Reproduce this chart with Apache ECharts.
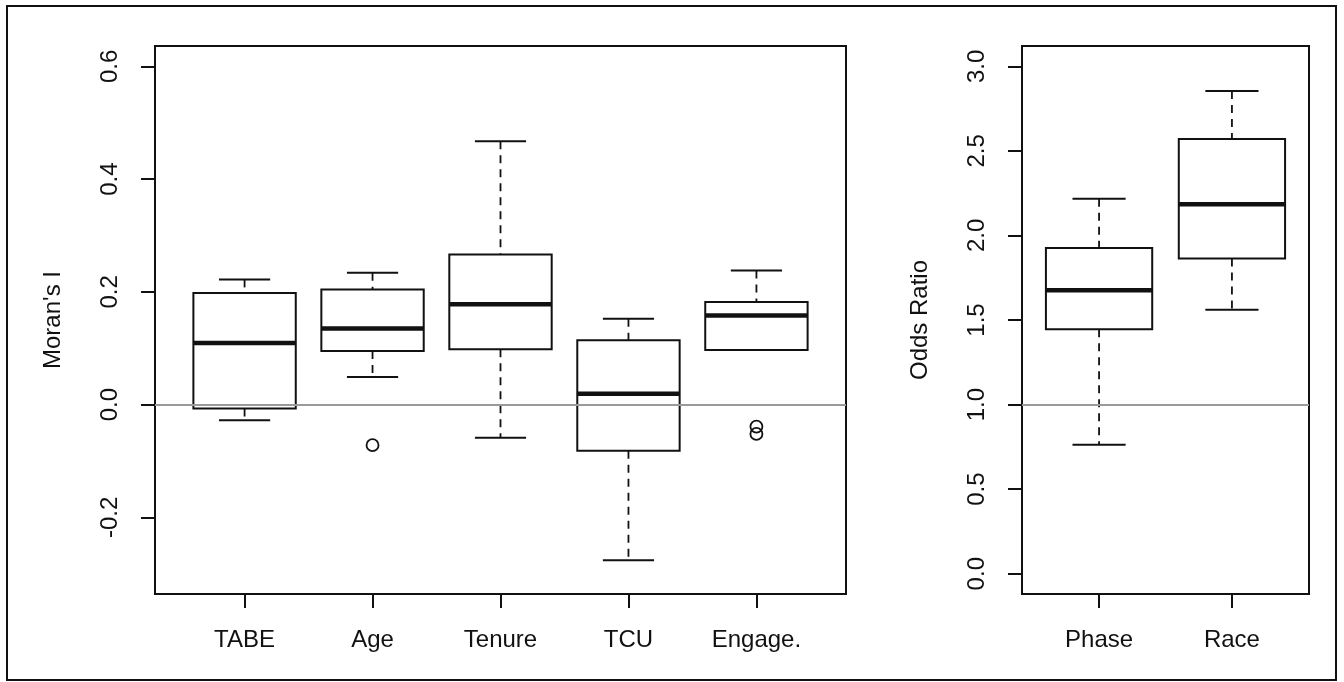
<!DOCTYPE html>
<html>
<head>
<meta charset="utf-8">
<script src="https://cdn.jsdelivr.net/npm/echarts@6/dist/echarts.min.js"></script>
<style>
  html, body { margin: 0; padding: 0; background: #fff; }
  #chart { width: 1344px; height: 682px; }
</style>
</head>
<body>
<div id="chart"></div>
<script>
// left panel: Moran's I
const leftCats = ['TABE', 'Age', 'Tenure', 'TCU', 'Engage.']
const leftLow = [-0.028, 0.049, -0.059, -0.276, 0.097]
const leftQ1 = [-0.007, 0.095, 0.098, -0.082, 0.097]
const leftMed = [0.109, 0.135, 0.178, 0.019, 0.158]
const leftQ3 = [0.198, 0.204, 0.266, 0.114, 0.182]
const leftHigh = [0.222, 0.234, 0.467, 0.152, 0.238]
const leftOutCat = ['Age', 'Engage.', 'Engage.']
const leftOutVal = [-0.072, -0.039, -0.052]
const leftTicks = [-0.2, 0.0, 0.2, 0.4, 0.6]

// right panel: odds ratios
const rightCats = ['Phase', 'Race']
const rightLow = [0.763, 1.560]
const rightQ1 = [1.446, 1.864]
const rightMed = [1.676, 2.185]
const rightQ3 = [1.925, 2.570]
const rightHigh = [2.217, 2.854]
const rightTicks = [0.0, 0.5, 1.0, 1.5, 2.0, 2.5, 3.0]

const ink = '#111'
const font = "'Liberation Sans', Arial, sans-serif"
const fs = 24

function rows (low, q1, med, q3, high) {
  return low.map((v, i) => [i + 1, v, q1[i], med[i], q3[i], high[i]])
}

function boxItem (params, api) {
  const x = api.value(0)
  const lo = api.coord([x, api.value(1)])
  const q1 = api.coord([x, api.value(2)])
  const med = api.coord([x, api.value(3)])
  const q3 = api.coord([x, api.value(4)])
  const hi = api.coord([x, api.value(5)])
  const bw = api.size([0.8, 0])[0]
  const cw = api.size([0.4, 0])[0]
  const cx = lo[0]
  const solid = { stroke: ink, lineWidth: 2, fill: null }
  const dashed = { stroke: ink, lineWidth: 1.8, lineDash: [8, 6], fill: null }
  return {
    type: 'group',
    children: [
      { type: 'line', shape: { x1: cx, y1: hi[1], x2: cx, y2: q3[1] }, style: dashed },
      { type: 'line', shape: { x1: cx, y1: q1[1], x2: cx, y2: lo[1] }, style: dashed },
      { type: 'line', shape: { x1: cx - cw / 2, y1: hi[1], x2: cx + cw / 2, y2: hi[1] }, style: solid },
      { type: 'line', shape: { x1: cx - cw / 2, y1: lo[1], x2: cx + cw / 2, y2: lo[1] }, style: solid },
      { type: 'rect', shape: { x: cx - bw / 2, y: q3[1], width: bw, height: q1[1] - q3[1] }, style: solid },
      { type: 'line', shape: { x1: cx - bw / 2, y1: med[1], x2: cx + bw / 2, y2: med[1] }, style: { stroke: ink, lineWidth: 4.5 } }
    ]
  }
}

function xAxis (idx, cats, min, max) {
  return {
    type: 'value',
    gridIndex: idx,
    min: min,
    max: max,
    splitLine: { show: false },
    axisLine: { show: false, onZero: false },
    axisTick: { show: true, length: 14, lineStyle: { color: ink, width: 2 }, customValues: cats.map((c, i) => i + 1) },
    axisLabel: {
      color: ink, fontFamily: font, fontSize: fs, margin: 34,
      customValues: cats.map((c, i) => i + 1),
      formatter: v => cats[Math.round(v) - 1]
    }
  }
}

function yAxis (idx, name, min, max, ticks) {
  return {
    type: 'value',
    gridIndex: idx,
    min: min,
    max: max,
    name: name,
    nameLocation: 'middle',
    nameRotate: 90,
    nameGap: 90,
    nameTextStyle: { color: ink, fontFamily: font, fontSize: fs },
    splitLine: { show: false },
    axisLine: { show: false, onZero: false },
    axisTick: { show: true, length: 14, lineStyle: { color: ink, width: 2 }, customValues: ticks },
    axisLabel: {
      color: ink, fontFamily: font, fontSize: fs, rotate: 90, margin: 33,
      customValues: ticks,
      formatter: v => v.toFixed(1)
    }
  }
}

const refLine = v => ({
  silent: true,
  symbol: 'none',
  label: { show: false },
  lineStyle: { color: '#9a9a9a', width: 2, type: 'solid' },
  data: [{ yAxis: v }]
})

const chart = echarts.init(document.getElementById('chart'))
chart.setOption({
  animation: false,
  backgroundColor: '#fff',
  textStyle: { fontFamily: font },
  graphic: [{
    type: 'rect',
    shape: { x: 7, y: 6, width: 1329, height: 674 },
    style: { fill: null, stroke: ink, lineWidth: 2 },
    silent: true
  }],
  grid: [
    { left: 155, top: 46, width: 691, height: 548, show: true, borderColor: ink, borderWidth: 2, backgroundColor: 'transparent' },
    { left: 1022, top: 46, width: 287, height: 548, show: true, borderColor: ink, borderWidth: 2, backgroundColor: 'transparent' }
  ],
  xAxis: [
    xAxis(0, leftCats, 0.3, 5.7),
    xAxis(1, rightCats, 0.42, 2.58)
  ],
  yAxis: [
    yAxis(0, "Moran's I", -0.336, 0.636, leftTicks),
    yAxis(1, 'Odds Ratio', -0.12, 3.12, rightTicks)
  ],
  series: [
    {
      type: 'scatter',
      xAxisIndex: 0,
      yAxisIndex: 0,
      symbol: 'circle',
      symbolSize: 12,
      itemStyle: { color: 'rgba(255,255,255,0)', borderColor: ink, borderWidth: 1.8, opacity: 1 },
      data: leftOutCat.map((c, i) => [leftCats.indexOf(c) + 1, leftOutVal[i]]),
      markLine: refLine(0),
      z: 3
    },
    {
      type: 'custom',
      xAxisIndex: 0,
      yAxisIndex: 0,
      renderItem: boxItem,
      encode: { x: 0, y: [1, 2, 3, 4, 5] },
      data: rows(leftLow, leftQ1, leftMed, leftQ3, leftHigh),
      z: 2
    },
    {
      type: 'scatter',
      xAxisIndex: 1,
      yAxisIndex: 1,
      data: [],
      markLine: refLine(1),
      z: 3
    },
    {
      type: 'custom',
      xAxisIndex: 1,
      yAxisIndex: 1,
      renderItem: boxItem,
      encode: { x: 0, y: [1, 2, 3, 4, 5] },
      data: rows(rightLow, rightQ1, rightMed, rightQ3, rightHigh),
      z: 2
    }
  ]
})
</script>
</body>
</html>
